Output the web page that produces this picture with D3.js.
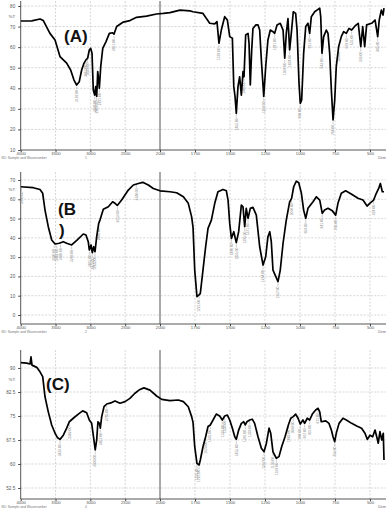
<!DOCTYPE html>
<html><head><meta charset="utf-8">
<script src="https://cdn.jsdelivr.net/npm/d3@7"></script>
<style>body{margin:0;background:#fff}svg{display:block}</style></head>
<body><svg id="c" width="386" height="509"></svg>
<script>
// ---------- data ----------
const xTickValues = [4000,3500,3000,2500,2000,1750,1500,1250,1000,750,500];
const xUnit = "1/cm";
const subText = "SD: Sample and Wavenumber";

const aWn = [4000,3842,3723,3675,3580,3507,3436,3340,3283,3235,3197,3159,3125,3092,3063,3039,3015,2995,2976,2958,2938,2923,2909,2894,2880,2871,2851,2822,2775,2727,2680,2661,2622,2527,2432,2336,2193,2050,1976,1929,1857,1786,1764,1693,1645,1609,1593,1579,1562,1538,1519,1502,1483,1473,1464,1455,1443,1431,1419,1407,1400,1388,1371,1364,1355,1345,1336,1316,1300,1288,1276,1259,1245,1229,1212,1193,1181,1164,1141,1121,1109,1098,1086,1074,1060,1048,1031,1021,1007,998,988,974,959,943,931,919,895,879,859,852,843,831,812,800,788,776,764,752,741,724,705,688,669,650,631,607,584,566,552,538,524,488,464,445,434,419,407,400];
const aT  = [72.7,72.8,73.7,72.9,66.7,63.5,55.4,52.2,48.9,44,41.6,43.2,48.9,52.1,53.8,54.6,58.6,59.4,57.0,39.2,36.7,40.8,36,48.1,44,40,50.5,59.4,62.7,66.7,67,66.3,70,72.2,72.9,74.5,75.1,76.1,76.4,76.8,78,77.6,77.2,76.4,71.6,71.3,72.4,61.9,68.3,74.8,73.2,65.1,64.3,40.8,36,27.8,40.8,45.6,36.7,48.1,45.6,65.9,66.7,61.9,41.6,58.6,69.1,70.8,70.8,68.3,53.8,36,50.5,63.5,68.3,67.5,66.7,70.8,71.6,68.3,54.6,66.7,73.9,58.6,68.3,77.2,76.4,68.3,42.4,32.7,34.3,57,70,71.6,66.7,74.8,77.2,78,78.9,74.8,57,65.1,68.3,66.7,57,39.2,24.6,34.3,50.5,60.2,65.1,67.5,66.7,69.1,68.3,70.3,71.6,60.2,70,60.2,70.8,71.6,73.2,65.1,73.2,78,75.6,79];
const aPeaks = [3197,3063,3039,2938,2909,2871,2661,1579,1455,1400,1259,1181,1109,1074,998,931,843,764,724,669,631,566,445];

const bWn = [4000,3819,3723,3684,3651,3604,3555,3507,3446,3388,3340,3268,3188,3101,3063,3030,3015,2990,2972,2952,2933,2909,2880,2862,2814,2742,2680,2646,2613,2551,2455,2383,2311,2248,2168,2096,2000,1929,1881,1833,1798,1774,1764,1752,1736,1721,1712,1693,1674,1657,1633,1609,1586,1550,1526,1514,1502,1490,1473,1455,1438,1419,1407,1395,1384,1371,1355,1336,1312,1288,1264,1245,1229,1216,1205,1193,1157,1141,1121,1098,1074,1060,1045,1026,1009,990,974,959,943,907,883,859,841,824,800,769,745,729,705,674,634,586,550,521,502,474,455,438,426,412,400];
const bT  = [66.5,66,65.1,63.1,54.4,45.8,38.9,36.8,37.2,38,37.2,36.3,38.9,42,41.5,38,33.7,36.3,32.3,35.4,32.8,40.6,47.5,49.2,54.8,56.1,58.7,57.9,56.8,59.6,64.8,67.4,68.2,68.8,67.4,65.6,64.4,63.9,63.4,61.3,57.9,50.9,45.4,23.3,9.5,10.4,11.2,23.3,35.4,44.9,49.2,57.9,63.9,65.1,64.4,59.6,47.5,39.7,43.2,37.5,43.2,57,56.1,45.8,55.3,50.1,55.3,55.8,51.8,35.4,25.9,30.2,40.6,43.2,38,23.3,17.3,23.3,37.2,49.2,58.7,60.5,66.5,69.4,68.6,63.1,54.4,50.1,55.3,58.7,61.3,59.6,52.7,54.4,55.3,54,51.8,57.9,63.1,64.4,62.7,60.5,59.6,56.5,57.9,59.6,63.1,65.6,68.2,63.9,63.9];
const bPeaks = [3990,3520,3482,3430,3268,3015,2972,2933,2880,2613,2340,1721,1490,1455,1395,1371,1264,1157,1060,959,841,745,474];

const cWn = [4000,3914,3866,3852,3838,3770,3723,3684,3651,3604,3555,3507,3474,3436,3388,3340,3302,3245,3173,3110,3053,3015,2981,2958,2930,2909,2891,2871,2857,2837,2804,2765,2693,2646,2574,2502,2432,2360,2288,2230,2144,2048,1988,1929,1869,1833,1798,1774,1764,1752,1736,1721,1712,1693,1674,1657,1641,1621,1598,1574,1555,1538,1519,1502,1483,1466,1455,1438,1419,1402,1391,1379,1359,1341,1324,1300,1276,1257,1240,1221,1209,1193,1169,1150,1131,1107,1083,1066,1048,1031,1014,998,979,967,948,931,912,888,871,859,848,816,793,776,764,752,741,721,693,669,631,595,560,536,519,500,481,464,452,441,429,416,405,400];
const cT  = [91.7,91.5,91.25,93.5,90.9,90.2,88.8,87.3,81,76.3,72.2,69.6,68.3,67.7,69,71.2,73.2,74.3,75.6,76.6,76,73.75,72.7,69,64.4,67.5,73.2,72.7,71.2,74.8,77.9,78.75,79.2,79.7,79,79.5,80.5,82.1,83.3,83.8,83.1,81.25,80.2,79.8,80,79.5,77.9,74.8,73,65.4,60.2,59.7,61.25,65.4,68.5,71.7,72.2,73.75,75.6,75,73.75,75,75.3,73.75,71.2,68.5,67.7,70.6,72.7,73.2,72.2,73.2,73.75,74,72.7,68.5,64.9,63.8,66.5,71.2,69.6,63.8,61.8,62.3,65.4,68.5,72.2,74.3,74.8,75.6,74.3,72.5,73.75,72.7,74.3,73.75,75.6,76.9,77.4,76.3,73.2,73.5,72.7,70.6,68.5,67,69.6,72.7,74.3,73.75,72.7,71.9,71.2,69.6,67.7,69,68.5,70.6,68.5,66.5,70.1,67.5,69.6,61.25];
const cPeaks = [3436,3302,2930,2857,2765,1736,1721,1674,1641,1555,1538,1455,1391,1359,1257,1193,1169,1083,1048,998,967,931,871,752];

const aYTicks = [80,70,60,50,40,30,20,10];
const bYTicks = [70,60,50,40,30,20,10,0];
const cYTicks = [90,82.5,75,67.5,60,52.5];
const sampleNo = ["1","2","4"];
const panelLabels = [["(A)"],["(B",")"],["(C)"]];

// ---------- layout ----------
const svg = d3.select("#c");
const x = d3.scaleLinear().domain([4000,2000,400]).range([20.7,160,384]);
const minorX = d3.range(4000,2000,-100).concat(d3.range(2000,399,-50));
const FONT = "Liberation Sans, Arial, sans-serif";

const layout = [
  {wn:aWn,t:aT,peaks:aPeaks,ticks:aYTicks,step:10,dom:[10,80],rng:[150,6],top:1,bottom:150,pct:75,lab:{x:64,y:[42]}},
  {wn:bWn,t:bT,peaks:bPeaks,ticks:bYTicks,step:10,dom:[0,70],rng:[315,180],top:172,bottom:324,pct:65,lab:{x:58,y:[215,236]}},
  {wn:cWn,t:cT,peaks:cPeaks,ticks:cYTicks,step:7.5,dom:[52.5,90],rng:[488,368],top:350,bottom:499,pct:86.25,lab:{x:46,y:[390]}}
];

layout.forEach((p,i)=>{
  const y = d3.scaleLinear().domain(p.dom).range(p.rng);
  const g = svg.append("g");
  const L = 20.7, R = 386;
  // horizontal grid
  g.selectAll(".hg").data(p.ticks.filter(v=>Math.abs(y(v)-p.bottom)>1)).enter().append("line")
    .attr("x1",L).attr("x2",R).attr("y1",d=>y(d)).attr("y2",d=>y(d))
    .attr("stroke","#c4c4c4").attr("stroke-width",0.7).attr("stroke-dasharray","2,1.5");
  // vertical grid
  g.selectAll(".vg").data(xTickValues.filter(v=>v!==4000 && v!==2000)).enter().append("line")
    .attr("x1",d=>x(d)).attr("x2",d=>x(d)).attr("y1",p.top).attr("y2",p.bottom)
    .attr("stroke","#c4c4c4").attr("stroke-width",0.7).attr("stroke-dasharray","2,1.5");
  g.append("line").attr("x1",x(2000)).attr("x2",x(2000)).attr("y1",p.top).attr("y2",p.bottom)
    .attr("stroke","#555").attr("stroke-width",1);
  // y axis
  const minorY = [];
  const lo = y.invert(p.bottom), hi = y.invert(p.top);
  for(let v=p.dom[0]-p.step; v<=hi; v+=p.step/4){ if(v>=lo-0.01) minorY.push(v); }
  const yAx = g.append("g").attr("transform",`translate(${L},0)`);
  yAx.append("line").attr("x1",0).attr("x2",0).attr("y1",p.top).attr("y2",p.bottom).attr("stroke","#444").attr("stroke-width",0.9);
  yAx.call(d3.axisLeft(y).tickValues(minorY).tickSize(1.6).tickFormat(""));
  yAx.call(d3.axisLeft(y).tickValues(p.ticks).tickSize(2.5).tickPadding(3)
      .tickFormat(d=>String(d)));
  yAx.select(".domain").remove();
  yAx.selectAll("line").attr("stroke","#444");
  yAx.selectAll("text").attr("font-size",4.6).attr("fill","#555").attr("font-family",FONT);
  yAx.append("text").attr("x",-5.5).attr("y",y(p.pct)).attr("dy","0.32em").attr("text-anchor","end")
    .attr("font-size",4.4).attr("fill","#555").attr("font-family",FONT).text("%T");
  // x axis
  const xAx = g.append("g").attr("transform",`translate(0,${p.bottom})`);
  xAx.call(d3.axisBottom(x).tickValues(minorX).tickSize(1.6).tickFormat(""));
  xAx.call(d3.axisBottom(x).tickValues(xTickValues).tickSize(2.2).tickPadding(0.3).tickFormat(d=>String(d)));
  xAx.select(".domain").remove();
  xAx.append("line").attr("x1",L).attr("x2",R).attr("stroke","#444").attr("stroke-width",0.9);
  xAx.selectAll("line").attr("stroke","#444");
  xAx.selectAll("text").attr("font-size",4.2).attr("fill","#555").attr("font-family",FONT);
  xAx.append("text").attr("x",386).attr("y",8.8).attr("text-anchor","end").attr("font-size",3.8).attr("fill","#666")
    .attr("font-family",FONT).text(xUnit);
  xAx.append("text").attr("x",24).attr("y",9.3).attr("font-size",3.4).attr("fill","#777")
    .attr("font-family",FONT).text(subText);
  xAx.append("text").attr("x",86).attr("y",9.3).attr("font-size",3.4).attr("fill","#777")
    .attr("font-family",FONT).text(sampleNo[i]);
  // spectrum
  const clipId = "clip"+i;
  svg.append("clipPath").attr("id",clipId).append("rect").attr("x",L).attr("y",p.top-1).attr("width",R-L).attr("height",p.bottom-p.top+1);
  const pts = p.wn.map((w,k)=>[w,p.t[k]]);
  // peak labels
  const pg = g.append("g").attr("font-family",FONT);
  p.peaks.forEach(w=>{
    let best = 0; pts.forEach((d,k)=>{ if(Math.abs(d[0]-w)<Math.abs(pts[best][0]-w)) best=k; });
    const py = y(pts[best][1]), px = x(w);
    pg.append("line").attr("x1",px).attr("x2",px).attr("y1",py+1.5).attr("y2",py+4.5).attr("stroke","#999").attr("stroke-width",0.5);
    pg.append("text").attr("transform",`translate(${px+1.2},${py+5}) rotate(-90)`).attr("text-anchor","end")
      .attr("font-size",3.3).attr("fill","#8a8a8a").text(w.toFixed(2));
  });
  g.append("path").datum(pts).attr("clip-path",`url(#${clipId})`)
    .attr("d",d3.line().x(d=>x(d[0])).y(d=>y(d[1])))
    .attr("fill","none").attr("stroke","#000").attr("stroke-width",1.7).attr("stroke-linejoin","round");
  // panel label
  panelLabels[i].forEach((s,k)=>{
    g.append("text").attr("x",p.lab.x+(k>0?1:0)).attr("y",p.lab.y[k]).attr("font-size",17).attr("font-weight","bold")
      .attr("font-family",FONT).attr("fill","#111").text(s);
  });
});
</script></body></html>
